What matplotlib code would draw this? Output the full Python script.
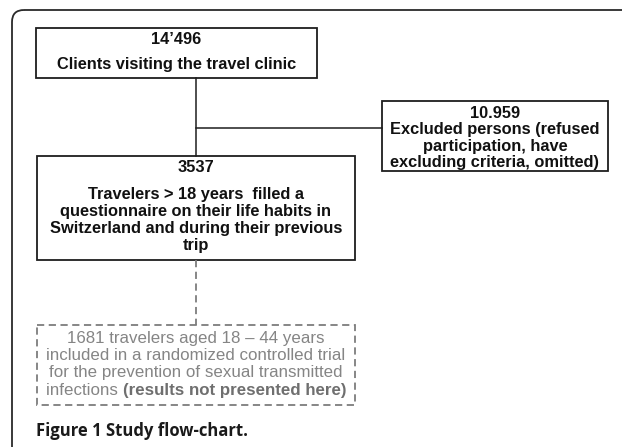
import matplotlib.pyplot as plt
from matplotlib.patches import Rectangle, FancyBboxPatch

# flow-chart content
top_count = "14\u2019496"
top_label = "Clients visiting the travel clinic"
excl_count = "10.959"
excl_label = "Excluded persons (refused\nparticipation, have\nexcluding criteria, omitted)"
mid_count = "3537"
mid_label = ("Travelers > 18 years  filled a\nquestionnaire on their life habits in\n"
             "Switzerland and during their previous\ntrip")
trial_lines = ["1681 travelers aged 18 \u2013 44 years",
               "included in a randomized controlled trial",
               "for the prevention of sexual transmitted"]
trial_last = ["infections ", "(results not presented here)"]
caption = "Figure 1 Study flow-chart."

# box geometry in pixels (x0, y0, x1, y1)
box_top = (36, 28, 317, 78)
box_excl = (382, 101, 608, 171)
box_mid = (37, 156, 355, 260)
box_trial = (37, 325, 355, 405)

W, H = 622, 447
fig = plt.figure(figsize=(W / 100, H / 100), dpi=100)
ax = fig.add_axes([0, 0, 1, 1])
ax.set_xlim(0, W)
ax.set_ylim(H, 0)
ax.axis('off')

dark = '#1e1e1e'
grey = '#7d7d7d'
txt_grey = '#858585'
font = 'Liberation Sans'
fs = 11.8

# outer rounded frame
frame = FancyBboxPatch((12, 10), 700, 500, boxstyle='round,pad=0,rounding_size=12',
                       fill=False, edgecolor='#2a2a2a', lw=1.3)
ax.add_patch(frame)


def draw_box(b, **kw):
    ax.add_patch(Rectangle((b[0], b[1]), b[2] - b[0], b[3] - b[1], fill=False, **kw))


draw_box(box_top, edgecolor=dark, lw=1.3)
draw_box(box_excl, edgecolor=dark, lw=1.3)
draw_box(box_mid, edgecolor=dark, lw=1.3)
draw_box(box_trial, edgecolor=grey, lw=1.3, linestyle=(0, (4, 2.5)))

# connectors
cx = 196
ax.plot([cx, cx], [box_top[3], box_mid[1]], color=dark, lw=1.1)
ax.plot([cx, box_excl[0]], [128, 128], color=dark, lw=1.1)
ax.plot([cx, cx], [box_mid[3], box_trial[1]], color=grey, lw=1.3, linestyle=(0, (4, 2.5)))

bold = dict(family=font, fontweight='bold', fontsize=fs, color='#111111',
            ha='center', va='center', linespacing=1.16)

ax.text((box_top[0] + box_top[2]) / 2, 40, top_count, **bold)
ax.text((box_top[0] + box_top[2]) / 2, 64, top_label, **bold)
ax.text((box_excl[0] + box_excl[2]) / 2, 114, excl_count, **bold)
ax.text((box_excl[0] + box_excl[2]) / 2, 146, excl_label, **bold)
ax.text((box_mid[0] + box_mid[2]) / 2, 168, mid_count, **bold)
ax.text((box_mid[0] + box_mid[2]) / 2, 220, mid_label, **bold)

tx = (box_trial[0] + box_trial[2]) / 2
gfs = 12.2
for i, line in enumerate(trial_lines):
    ax.text(tx, 338 + i * 17.5, line, family=font, fontsize=gfs, color=txt_grey,
            ha='center', va='center')

# last line mixes regular and bold text
y_last = 338 + 3 * 17.5
t1 = ax.text(0, y_last, trial_last[0], family=font, fontsize=gfs, color=txt_grey,
             ha='left', va='center')
t2 = ax.text(0, y_last, trial_last[1], family=font, fontsize=gfs, color='#6f6f6f',
             fontweight='bold', ha='left', va='center')
fig.canvas.draw()
r = fig.canvas.get_renderer()
w1 = t1.get_window_extent(r).width
w2 = t2.get_window_extent(r).width
x0 = tx - (w1 + w2) / 2
t1.set_x(x0)
t2.set_x(x0 + w1)

ax.text(36, 431, caption, family='Open Sans', fontweight='bold', fontsize=12,
        color='#1a1a1a', ha='left', va='center')

fig.savefig('out.png', dpi=100)
